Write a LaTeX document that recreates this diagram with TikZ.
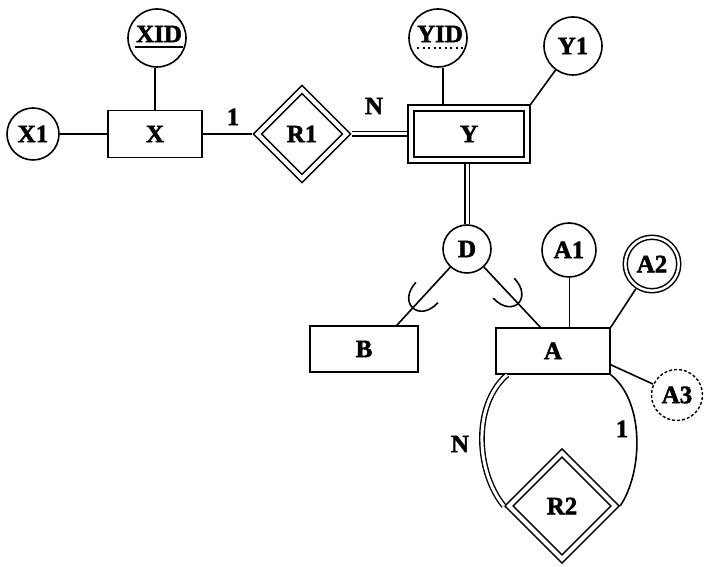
\documentclass[tikz,border=0pt]{standalone}
\usepackage{fontspec}
\setmainfont{Liberation Serif}[BoldFeatures={FakeBold=2}]
\usetikzlibrary{shapes.geometric,calc}
\begin{document}
\begin{tikzpicture}[x=1pt,y=1pt,
  every node/.style={font=\fontsize{25}{28}\selectfont\bfseries, inner sep=0pt},
  ln/.style={line width=1.6pt},
  thinln/.style={line width=1pt},
  dbl/.style={line width=1.4pt, double, double distance=3pt},
  entity/.style={draw, rectangle, line width=1.6pt, minimum height=46pt},
  weakent/.style={draw, rectangle, line width=1.6pt, double, double distance=4pt, outer sep=3.6pt},
  attr/.style={draw, circle, line width=1.6pt},
  multattr/.style={draw, circle, line width=1.5pt, double, double distance=2.5pt, outer sep=2.8pt},
  derattr/.style={draw, circle, line width=1.4pt, dash pattern=on 3pt off 2pt},
  weakrel/.style={draw, diamond, aspect=1, line width=1.6pt, double, double distance=4pt, outer sep=3.6pt},
  card/.style={font=\fontsize{25}{28}\selectfont\bfseries}]
\useasboundingbox (0,0) rectangle (704,567);

% entities
\node[entity, minimum width=94pt, minimum height=47pt] (X) at (155,433) {X};
\node[weakent, minimum width=116pt, minimum height=52pt] (Y) at (469,433) {Y};
\node[entity, minimum width=114pt] (A) at (553,216) {A};
\node[entity, minimum width=108pt] (B) at (364,218) {B};

% relationships
\node[weakrel, minimum width=92pt, minimum height=92pt] (R1) at (302,433) {R1};
\node[weakrel, minimum width=109pt, minimum height=109pt] (R2) at (562,61) {R2};

% attributes
\node[attr, minimum size=52pt] (X1) at (33,433) {X1};
\node[attr, minimum size=58pt] (XID) at (157,529) {};
\node (XIDt) at (159,533) {XID};
\node[attr, minimum size=58pt] (YID) at (438,529) {};
\node (YIDt) at (440,533) {YID};
\node[attr, minimum size=58pt] (Y1) at (573,521) {Y1};
\node[attr, minimum size=48pt] (D) at (467,318) {D};
\node[attr, minimum size=54pt] (A1) at (569,317) {A1};
\node[multattr, minimum size=53.5pt] (A2) at (652,303) {A2};
\node[derattr, minimum size=51pt] (A3) at (677,172) {A3};

% key underlines
\draw[line width=1.4pt] ($(XID.center)+(-22,-9)$) -- ($(XID.center)+(26,-9)$);
\draw[line width=1.6pt, dash pattern=on 2pt off 3.5pt] ($(YID.center)+(-21,-10)$) -- ($(YID.center)+(25,-10)$);

% connectors
\draw[ln] (X1) -- (X);
\draw[ln] (X.north) -- (X.north |- XID.south);
\draw[ln] (X) -- (R1);
\draw[dbl] (R1) -- (Y);
\coordinate (Yt) at ($(Y.north west)!0.29!(Y.north east)$);
\draw[ln] (Yt) -- (Yt |- YID.south);
\draw[ln] (Y1) -- (Y.north east);
\draw[dbl] (Y.south -| D.north) -- (D.north);

\coordinate (Bt) at ($(B.north west)!0.8!(B.north east)$);
\coordinate (At) at ($(A.north west)!0.39!(A.north east)$);
\draw[ln] (D) -- (Bt);
\draw[ln] (D) -- (At);
\coordinate (s1) at ($(D)!0.59!(Bt)$);
\coordinate (s2) at ($(D)!0.52!(At)$);
\path let \p1=($(Bt)-(D)$), \n1={atan2(\y1,\x1)} in \pgfextra{\xdef\angB{\n1}};
\path let \p1=($(At)-(D)$), \n1={atan2(\y1,\x1)} in \pgfextra{\xdef\angA{\n1}};
\draw[ln, shift={(s1)}, rotate=\angB] (-2,15) .. controls (26,15) and (26,-15) .. (-2,-15);
\draw[ln, shift={(s2)}, rotate=\angA] (-2,14.5) .. controls (26,14.5) and (26,-14.5) .. (-2,-14.5);

\draw[thinln] (A1) -- (A1 |- A.north);
\draw[ln] (A2) -- (A.north east);
\draw[ln] ($(A.north east)!0.79!(A.south east)$) -- (A3);

\draw[dbl] ($(A.south west)+(12,0)$) .. controls +(-35,-30) and +(-28,34) .. (R2.west);
\draw[ln] (A.south east) .. controls +(34,-27) and +(23,34) .. (R2.east);

% cardinalities
\node[card] (c1) at (233,450) {1};
\node[card] (c2) at (374,461) {N};
\node[card] (c3) at (460,123) {N};
\node[card] (c4) at (622,138) {1};
\end{tikzpicture}
\end{document}
